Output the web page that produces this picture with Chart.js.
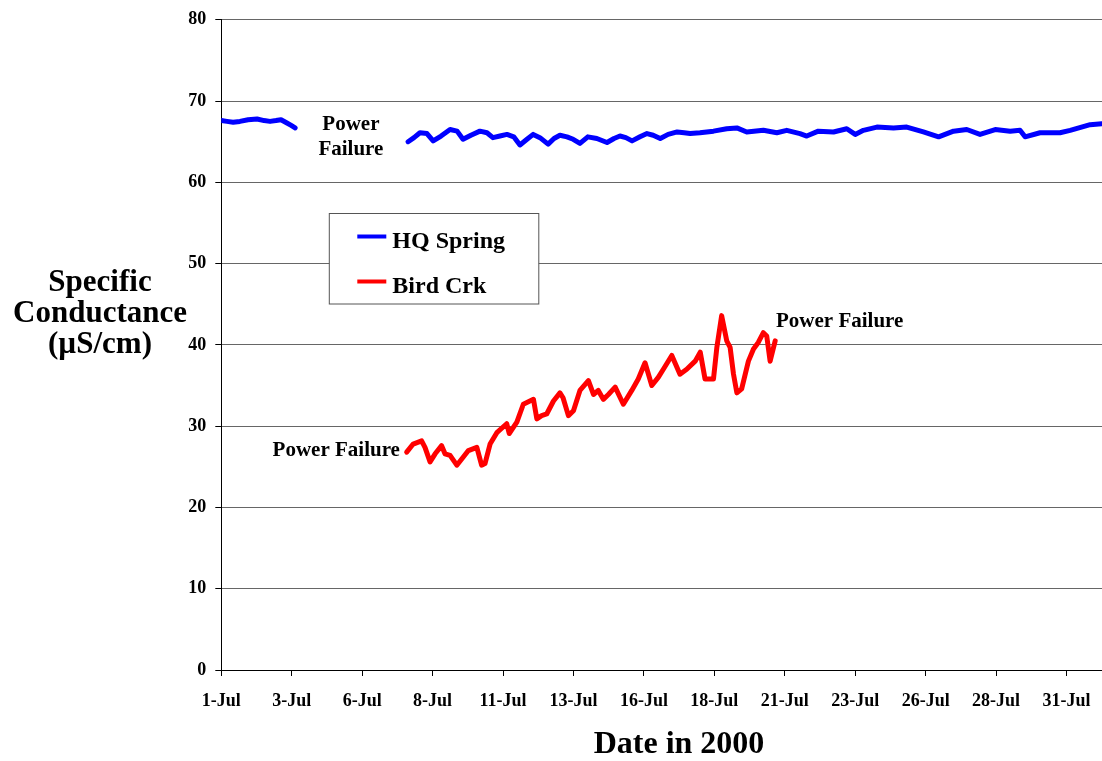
<!DOCTYPE html>
<html>
<head>
<meta charset="utf-8">
<script src="https://cdn.jsdelivr.net/npm/chart.js@4/dist/chart.umd.min.js"></script>
<style>
  html, body { margin: 0; padding: 0; background: #ffffff; }
  #wrap { width: 1102px; height: 761px; }
</style>
</head>
<body>
<div id="wrap"><canvas id="c" width="1102" height="761"></canvas></div>
<script>
// ---- Data (x = days since 1-Jul 2000 00:00) ----
const hqDays = [0.0, 0.2, 0.42, 0.66, 0.95, 1.27, 1.52, 1.73, 1.94, 2.12, 2.33, 2.48, 2.62,
  4.5,
  6.63, 6.84, 7.05, 7.30, 7.52, 7.80, 8.12, 8.37, 8.58, 8.86, 9.18, 9.43, 9.64, 9.89, 10.14, 10.38,
  10.60, 10.85, 11.07, 11.31, 11.60, 11.81, 12.02, 12.27, 12.49, 12.73, 13.01, 13.33, 13.69, 13.94,
  14.15, 14.36, 14.58, 14.86, 15.11, 15.33, 15.58, 15.86, 16.18, 16.43, 16.64, 16.99, 17.47, 17.94,
  18.30, 18.65, 19.24, 19.72, 20.07, 20.54, 20.78, 21.19, 21.73, 22.20, 22.50, 22.79, 23.27, 23.86,
  24.33, 24.92, 25.46, 25.99, 26.46, 26.93, 27.47, 28.00, 28.35, 28.53, 29.06, 29.77, 30.13, 30.84, 31.25];
const hqValues = [67.6, 67.5, 67.4, 67.5, 67.7, 67.8, 67.6, 67.5, 67.6, 67.7, 67.3, 67.0, 66.7,
  null,
  65.0, 65.5, 66.1, 66.0, 65.1, 65.7, 66.5, 66.3, 65.3, 65.8, 66.3, 66.1, 65.5, 65.7, 65.9, 65.6,
  64.6, 65.3, 65.9, 65.5, 64.7, 65.4, 65.8, 65.6, 65.3, 64.8, 65.6, 65.4, 64.9, 65.4,
  65.7, 65.5, 65.1, 65.6, 66.0, 65.8, 65.4, 65.9, 66.2, 66.1, 66.0, 66.1, 66.3, 66.6,
  66.7, 66.2, 66.4, 66.1, 66.4, 66.0, 65.7, 66.3, 66.2, 66.6, 65.9, 66.4, 66.8, 66.7,
  66.8, 66.2, 65.6, 66.3, 66.5, 65.9, 66.5, 66.3, 66.4, 65.6, 66.1, 66.1, 66.4, 67.1, 67.2];

const birdDays = [6.58, 6.81, 7.11, 7.23, 7.41, 7.59, 7.82, 7.94, 8.12, 8.36, 8.59, 8.77, 9.07, 9.24,
  9.36, 9.54, 9.78, 10.13, 10.22, 10.49, 10.72, 11.08, 11.20, 11.37, 11.55, 11.79, 12.02, 12.13,
  12.32, 12.50, 12.73, 13.03, 13.21, 13.38, 13.56, 13.74, 13.98, 14.27, 14.57, 14.80, 15.04, 15.28,
  15.51, 15.69, 15.99, 16.28, 16.52, 16.82, 17.00, 17.17, 17.47, 17.59, 17.76, 17.94, 18.06, 18.18,
  18.30, 18.47, 18.71, 18.89, 19.06, 19.24, 19.36, 19.48, 19.66];
const birdValues = [26.8, 27.8, 28.2, 27.4, 25.6, 26.6, 27.6, 26.6, 26.4, 25.2, 26.2, 27.0, 27.4, 25.2,
  25.4, 27.8, 29.2, 30.3, 29.1, 30.5, 32.7, 33.3, 30.9, 31.3, 31.5, 33.1, 34.1, 33.5,
  31.3, 31.9, 34.4, 35.6, 33.9, 34.4, 33.3, 33.9, 34.8, 32.7, 34.4, 35.8, 37.8, 35.0,
  36.0, 37.0, 38.7, 36.4, 37.0, 38.0, 39.1, 35.8, 35.8, 39.7, 43.6, 40.5, 39.7, 36.4,
  34.1, 34.6, 38.0, 39.5, 40.3, 41.5, 41.1, 38.0, 40.5];

const seriesNames = ["HQ Spring", "Bird Crk"];
const xTickDays = [0, 2.5, 5, 7.5, 10, 12.5, 15, 17.5, 20, 22.5, 25, 27.5, 30];
const xTickLabels = ["1-Jul", "3-Jul", "6-Jul", "8-Jul", "11-Jul", "13-Jul", "16-Jul", "18-Jul",
  "21-Jul", "23-Jul", "26-Jul", "28-Jul", "31-Jul"];
const yTitleLines = ["Specific", "Conductance", "(\u00B5S/cm)"];
const xTitle = "Date in 2000";
// annotations anchored in data units: [text lines, day, value of first baseline, align]
const notes = [
  { lines: ["Power", "Failure"], day: 4.6, value: 66.5, align: "center" },
  { lines: ["Power Failure"], day: 6.34, value: 26.3, align: "right" },
  { lines: ["Power Failure"], day: 19.69, value: 42.2, align: "left" }
];

const FONT = "'Liberation Serif', 'Times New Roman', serif";
Chart.defaults.font.family = FONT;
Chart.defaults.color = "#000";

const toXY = (xs, ys) => xs.map((x, i) => ({ x: x, y: ys[i] }));

const extras = {
  id: "extras",
  afterDraw(chart) {
    const ctx = chart.ctx;
    const ca = chart.chartArea;
    const xs = chart.scales.x, ys = chart.scales.y;
    ctx.save();
    ctx.fillStyle = "#000";
    // Y title
    ctx.font = "bold 31px " + FONT;
    ctx.textAlign = "center";
    ctx.textBaseline = "alphabetic";
    const yMid = (ys.getPixelForValue(40) + ys.getPixelForValue(50)) / 2;
    yTitleLines.forEach((t, i) => ctx.fillText(t, 100, yMid + 18 + (i - 1) * 31));
    // X title
    ctx.font = "bold 32px " + FONT;
    ctx.fillText(xTitle, 679, 753);
    // annotations
    ctx.font = "bold 21px " + FONT;
    notes.forEach(n => {
      ctx.textAlign = n.align;
      const px = xs.getPixelForValue(n.day);
      const py = ys.getPixelForValue(n.value);
      n.lines.forEach((t, i) => ctx.fillText(t, px, py + i * 25));
    });
    // legend box
    const lx = ca.left + 108, ly = 213.5, lw = 209.5, lh = 90.5;
    ctx.fillStyle = "#fff";
    ctx.fillRect(lx, ly, lw, lh);
    ctx.strokeStyle = "#555";
    ctx.lineWidth = 1;
    ctx.strokeRect(lx, ly, lw, lh);
    const cols = chart.data.datasets.map(d => d.borderColor);
    ctx.font = "bold 24px " + FONT;
    ctx.textAlign = "left";
    seriesNames.forEach((name, i) => {
      const cy = ly + 23 + i * 45;
      ctx.strokeStyle = cols[i];
      ctx.lineWidth = 4;
      ctx.beginPath();
      ctx.moveTo(lx + 28, cy);
      ctx.lineTo(lx + 57, cy);
      ctx.stroke();
      ctx.fillStyle = "#000";
      ctx.fillText(name, lx + 63, cy + 11);
    });
    ctx.restore();
  }
};

new Chart(document.getElementById("c"), {
  type: "line",
  data: {
    datasets: [
      { label: seriesNames[0], data: toXY(hqDays, hqValues), borderColor: "#0000ff",
        borderWidth: 5, pointRadius: 0, tension: 0, spanGaps: false, borderCapStyle: "round", borderJoinStyle: "round" },
      { label: seriesNames[1], data: toXY(birdDays, birdValues), borderColor: "#ff0000",
        borderWidth: 5, pointRadius: 0, tension: 0, spanGaps: false, borderCapStyle: "round", borderJoinStyle: "round" }
    ]
  },
  options: {
    responsive: false,
    animation: false,
    events: [],
    layout: { padding: { top: 17.5, right: 0, bottom: 0, left: 0 } },
    plugins: { legend: { display: false }, tooltip: { enabled: false }, title: { display: false } },
    scales: {
      x: {
        type: "linear",
        min: 0,
        max: 31.26,
        afterBuildTicks: s => { s.ticks = xTickDays.map(v => ({ value: v })); },
        afterFit: s => { s.height = 91; s.paddingRight = 0; s.paddingLeft = 0; },
        ticks: {
          autoSkip: false, maxRotation: 0, minRotation: 0, padding: 15, color: "#000",
          font: { size: 18, weight: "bold", family: FONT },
          callback: (v, i) => xTickLabels[i]
        },
        grid: { drawOnChartArea: false, drawTicks: true, tickLength: 6, tickColor: "#000", color: "#000" },
        border: { display: true, color: "#000", width: 1 }
      },
      y: {
        min: 0,
        max: 80,
        afterFit: s => { s.width = 221.3; },
        ticks: {
          stepSize: 10, padding: 9, color: "#000",
          font: { size: 18, weight: "bold", family: FONT }
        },
        grid: { color: "#666", lineWidth: 1, drawTicks: true, tickLength: 6, tickColor: "#000" },
        border: { display: true, color: "#000", width: 1 }
      }
    }
  },
  plugins: [extras]
});
</script>
</body>
</html>
